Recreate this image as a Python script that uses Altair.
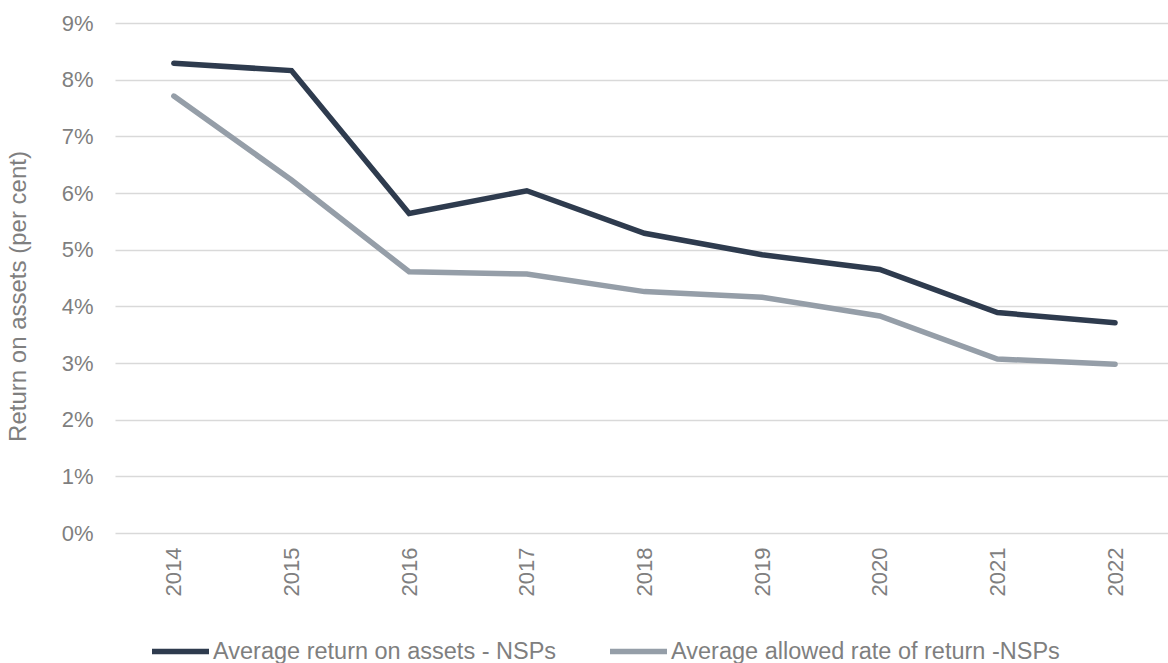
import altair as alt
import pandas as pd

years = [2014, 2015, 2016, 2017, 2018, 2019, 2020, 2021, 2022]
roa_nsps = [8.29, 8.16, 5.64, 6.04, 5.29, 4.91, 4.65, 3.89, 3.71]
allowed_nsps = [7.71, 6.23, 4.61, 4.57, 4.26, 4.16, 3.83, 3.07, 2.98]
series_names = ["Average return on assets - NSPs", "Average allowed rate of return -NSPs"]
series_colors = ["#2E3B4E", "#959EA8"]
y_ticks = [0, 1, 2, 3, 4, 5, 6, 7, 8, 9]

rows = []
for i, y in enumerate(years):
    rows.append({"year": y, "value": roa_nsps[i], "series": series_names[0]})
    rows.append({"year": y, "value": allowed_nsps[i], "series": series_names[1]})
df = pd.DataFrame(rows)

TEXT = "#7F7F7F"
FONT = "Liberation Sans"

chart = alt.Chart(df).mark_line(strokeWidth=5.5, strokeCap="round", strokeJoin="miter").encode(
    x=alt.X("year:Q",
            scale=alt.Scale(domain=[2013.5, 2022.45], nice=False, zero=False),
            axis=alt.Axis(values=years, format="d", labelAngle=270, labelAlign="right",
                          labelBaseline="middle", labelPadding=14, ticks=False, domain=False,
                          grid=False, labelFontSize=22, labelColor=TEXT, labelFont=FONT,
                          title=None)),
    y=alt.Y("value:Q",
            scale=alt.Scale(domain=[0, 9], nice=False),
            axis=alt.Axis(values=y_ticks, labelExpr="datum.value + '%'", ticks=False,
                          domain=False, grid=True, gridColor="#D9D9D9", gridWidth=1.5,
                          labelPadding=22, labelFontSize=22, labelColor=TEXT, labelFont=FONT,
                          title="Return on assets (per cent)", titleFontSize=24,
                          titleFontWeight="normal", titleColor=TEXT, titleFont=FONT,
                          titleAngle=270, titleX=-85, titleY=273, titleAlign="center",
                          titleBaseline="bottom")),
    color=alt.Color("series:N",
                    scale=alt.Scale(domain=series_names, range=series_colors),
                    legend=alt.Legend(orient="none", legendX=34, legendY=597,
                                      direction="horizontal", title=None,
                                      symbolType="stroke", symbolSize=3249,
                                      symbolStrokeWidth=5.5, labelFontSize=23.5,
                                      labelColor=TEXT, labelFont=FONT, labelOffset=1,
                                      labelLimit=0, columnPadding=42, symbolOffset=0)),
    detail="series:N",
    order="year:Q",
).properties(
    width=1053,
    height=510,
    autosize=alt.AutoSizeParams(type="none"),
    padding={"left": 115, "top": 23, "right": 0, "bottom": 130},
).configure(background="white").configure_view(stroke=None, strokeWidth=0)

chart.save("out.html", embed_options={"renderer": "svg", "actions": False})
